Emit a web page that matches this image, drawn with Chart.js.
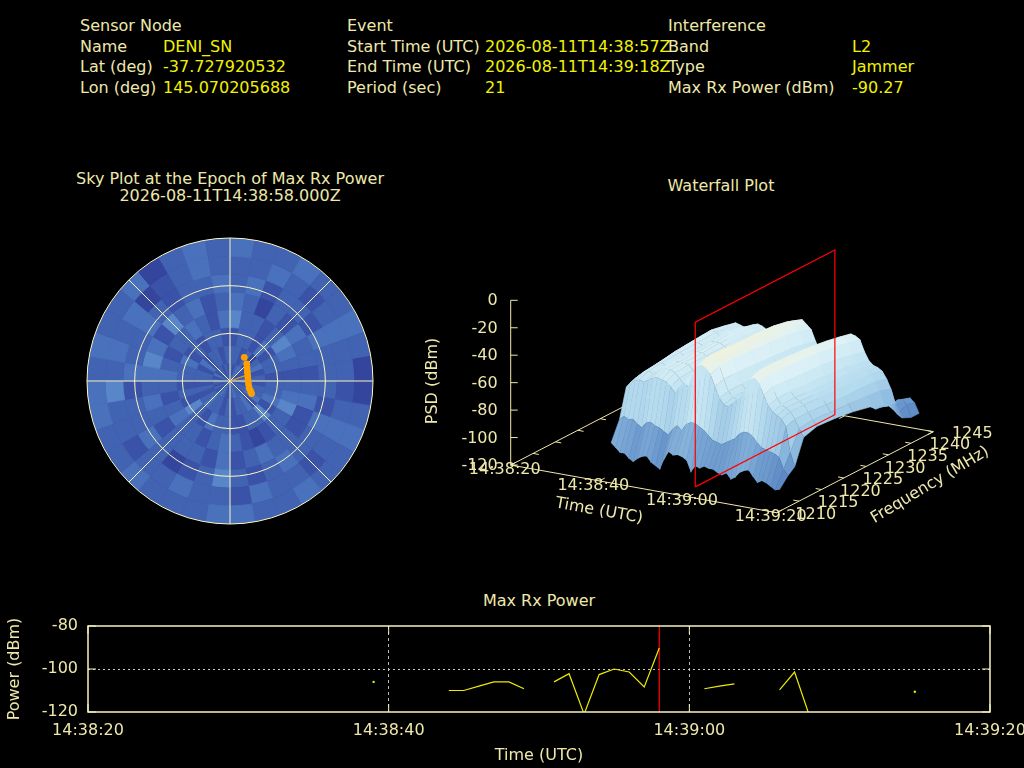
<!DOCTYPE html>
<html>
<head>
<meta charset="utf-8">
<script src="https://cdn.jsdelivr.net/npm/chart.js@4.4.1/dist/chart.umd.min.js"></script>
<style>
body { margin: 0; background: #000; width: 1024px; height: 768px; overflow: hidden; position: relative;
       font-family: 'DejaVu Sans', sans-serif; font-size: 16px; }
.t { position: absolute; white-space: nowrap; color: #eee8aa; line-height: 20px; }
.v { color: #f2f200; }
.c { transform: translateX(-50%); text-align: center; }
canvas { position: absolute; }
</style>
</head>
<body>

<!-- header table -->
<div class="t" style="left:80px;top:16px">Sensor Node</div>
<div class="t" style="left:80px;top:37px">Name</div>
<div class="t" style="left:80px;top:57px">Lat (deg)</div>
<div class="t" style="left:80px;top:78px">Lon (deg)</div>
<div class="t v" style="left:163px;top:37px">DENI_SN</div>
<div class="t v" style="left:163px;top:57px">-37.727920532</div>
<div class="t v" style="left:163px;top:78px">145.070205688</div>

<div class="t" style="left:347px;top:16px">Event</div>
<div class="t" style="left:347px;top:37px">Start Time (UTC)</div>
<div class="t" style="left:347px;top:57px">End Time (UTC)</div>
<div class="t" style="left:347px;top:78px">Period (sec)</div>
<div class="t v" style="left:485px;top:37px">2026-08-11T14:38:57Z</div>
<div class="t v" style="left:485px;top:57px">2026-08-11T14:39:18Z</div>
<div class="t v" style="left:485px;top:78px">21</div>

<div class="t" style="left:668px;top:16px">Interference</div>
<div class="t" style="left:668px;top:37px">Band</div>
<div class="t" style="left:668px;top:57px">Type</div>
<div class="t" style="left:668px;top:78px">Max Rx Power (dBm)</div>
<div class="t v" style="left:852px;top:37px">L2</div>
<div class="t v" style="left:852px;top:57px">Jammer</div>
<div class="t v" style="left:852px;top:78px">-90.27</div>

<div class="t c" style="left:230px;top:170px;line-height:17px">Sky Plot at the Epoch of Max Rx Power<br>2026-08-11T14:38:58.000Z</div>
<div class="t c" style="left:721px;top:176px">Waterfall Plot</div>
<div class="t c" style="left:539px;top:591px">Max Rx Power</div>

<canvas id="skyCells" width="286" height="286" style="left:87px;top:238px;width:286px;height:286px"></canvas>
<canvas id="skyMarks" width="296" height="296" style="left:82px;top:233px;width:296px;height:296px"></canvas>
<canvas id="waterfall" width="600" height="320" style="left:420px;top:230px;width:600px;height:320px"></canvas>
<canvas id="power" width="1024" height="156" style="left:0px;top:612px;width:1024px;height:156px"></canvas>

<script>
// ---- data ----
// time axis in seconds after 14:38:20 UTC
const timeTickSec = [0, 20, 40, 60];
const timeTickLabels = ['14:38:20', '14:38:40', '14:39:00', '14:39:20'];
const maxEpochSec = 38;   // 14:38:58

// max rx power, one sample per second (null = no sample)
const powerSec = [19, 20, 21, 22, 23, 24, 25, 26, 27, 28, 29, 30, 31, 32, 33, 34, 35, 36, 37, 38,
                  39, 40, 41, 42, 43, 44, 45, 46, 47, 48, 49, 50, 51, 52, 53, 54, 55];
const powerDbm = [-106.0, null, null, null, null, -110.0, -110.0, -108.0, -106.0, -106.0, -109.2, null,
                  -106.0, -102.2, -121.0, -102.6, -100.0, -101.4, -108.3, -90.27,
                  null, null, -109.2, -108.0, -106.9, null, null, -109.7, -101.4, -122.0,
                  null, null, null, null, null, null, -110.6];
const powerTicks = [-120, -100, -80];

// sky plot: shade level per cell, 36 azimuth sectors of 10 deg, rings from zenith outwards
const skySectorDeg = 10;
const skyRings = [
  '212321122312212232112321212213122121',
  '221202312122313221212232121221312212',
  '122131221223142211223124121223121221',
  '422124321234221012321223212321223213',
  '320213221231122321312221232343142312',
  '231221322213223212421023221322321223',
  '223212322123212231223221224232301232',
  '322322320023223223322232233232230232'
];
// interference direction track (azimuth, elevation in deg)
const trackAz = [31.1, 44.5, 52.6, 62.5, 74.2, 86.8, 99.2, 110.0, 116.0, 120.2];
const trackEl = [72.6, 75.0, 76.5, 77.7, 78.4, 78.7, 78.2, 77.2, 75.6, 74.3];
const epochAz = 70.2, epochEl = 78.8;

// waterfall: PSD (dBm) per second (rows) and frequency (columns)
const wfTimes = [19, 20, 21, 22, 23, 24, 25, 26, 27, 28, 29, 30, 31, 32, 33, 34, 35, 36, 37, 38,
                 39, 40, 41, 42, 43, 44, 45, 46, 47, 48, 49, 50, 51, 52, 53, 54, 55, 56, 57];
const wfFreqs = [1213.6, 1215.5, 1217, 1219, 1222, 1226, 1230, 1234, 1237, 1239.5, 1241, 1243, 1244.8];
const wfPsd = [
  [-99, -85, -64, -61, -60, -58, -56, -55, -56, -58, -98, -102, -104],
  [-102, -82, -60, -58, -57, -55, -54, -53, -54, -56, -100, -104, -103],
  [-105, -84, -58, -55, -54, -52, -51, -50, -52, -54, -101, -103, -105],
  [-105, -83, -57, -54, -53, -52, -52, -51, -53, -55, -99, -104, -106],
  [-108, -86, -58, -55, -55, -54, -53, -53, -54, -56, -102, -105, -104],
  [-110, -88, -56, -53, -52, -52, -51, -51, -52, -55, -103, -106, -107],
  [-107, -84, -54, -51, -50, -50, -49, -49, -51, -53, -100, -103, -105],
  [-105, -83, -53, -50, -50, -49, -49, -48, -50, -52, -101, -104, -106],
  [-104, -85, -54, -50, -50, -50, -49, -49, -50, -53, -99, -102, -104],
  [-108, -86, -55, -52, -51, -51, -51, -50, -52, -55, -102, -105, -106],
  [-110, -88, -58, -55, -54, -54, -53, -53, -55, -57, -104, -106, -105],
  [-112, -90, -62, -60, -59, -59, -58, -58, -60, -62, -103, -105, -107],
  [-104, -85, -57, -55, -54, -54, -53, -53, -55, -57, -101, -104, -105],
  [-98, -82, -53, -50, -49, -49, -48, -48, -50, -53, -100, -103, -104],
  [-100, -85, -56, -54, -53, -53, -52, -52, -54, -56, -102, -104, -106],
  [-99, -80, -47, -44, -43, -44, -44, -44, -45, -48, -99, -102, -104],
  [-100, -78, -40, -37, -37, -38, -38, -39, -41, -44, -98, -101, -103],
  [-102, -78, -38, -35, -35, -36, -37, -38, -40, -43, -99, -102, -104],
  [-110, -80, -40, -37, -38, -39, -40, -41, -43, -46, -100, -103, -105],
  [-105, -82, -44, -41, -41, -42, -43, -44, -46, -49, -101, -104, -106],
  [-106, -85, -52, -50, -50, -51, -52, -53, -55, -57, -102, -105, -106],
  [-104, -88, -60, -58, -58, -59, -60, -61, -62, -64, -103, -105, -104],
  [-105, -89, -64, -62, -62, -63, -64, -64, -65, -67, -102, -104, -106],
  [-105, -90, -65, -63, -63, -64, -65, -65, -66, -68, -103, -105, -107],
  [-107, -88, -62, -60, -60, -61, -62, -63, -64, -66, -101, -104, -105],
  [-108, -86, -59, -57, -57, -58, -59, -60, -61, -63, -102, -103, -105],
  [-106, -84, -55, -53, -52, -53, -54, -55, -56, -58, -100, -104, -104],
  [-110, -80, -48, -45, -45, -46, -47, -48, -50, -52, -99, -102, -104],
  [-108, -78, -42, -39, -39, -40, -41, -43, -45, -47, -98, -101, -103],
  [-104, -78, -41, -38, -38, -39, -41, -43, -45, -48, -99, -102, -104],
  [-102, -80, -44, -41, -42, -43, -44, -46, -48, -50, -100, -103, -105],
  [-101, -84, -52, -49, -50, -51, -52, -54, -56, -58, -101, -104, -106],
  [-105, -87, -59, -57, -57, -58, -59, -60, -62, -64, -102, -103, -104],
  [-109, -88, -63, -61, -61, -62, -63, -64, -65, -67, -100, -102, -103],
  [-107, -89, -65, -63, -63, -64, -65, -65, -66, -68, -99, -100, -102],
  [-108, -90, -67, -65, -65, -66, -67, -67, -68, -70, -98, -97, -100],
  [-110, -92, -72, -70, -70, -71, -72, -72, -73, -75, -100, -96, -98],
  [-112, -100, -90, -76, -75, -76, -77, -78, -79, -82, -103, -99, -101],
  [-111, -104, -100, -82, -79, -80, -82, -85, -88, -92, -105, -108, -108]
];
const wfFreqTicks = [1210, 1215, 1220, 1225, 1230, 1235, 1240, 1245];
const wfPsdTicks = [0, -20, -40, -60, -80, -100, -120];

// ---- styling ----
const PALE = '#eee8aa';
Chart.defaults.font.family = 'DejaVu Sans';
Chart.defaults.font.size = 16;
Chart.defaults.color = PALE;

// ---- bottom: max rx power ----
const powerFrame = {
  id: 'powerFrame',
  afterDatasetsDraw(chart) {
    const { ctx, chartArea: a, scales } = chart;
    ctx.save();
    ctx.strokeStyle = '#f8f4c0';
    ctx.lineWidth = 1.5;
    ctx.strokeRect(a.left, a.top, a.width, a.height);
    ctx.lineWidth = 1;
    const line = (x1, y1, x2, y2) => { ctx.beginPath(); ctx.moveTo(x1, y1); ctx.lineTo(x2, y2); ctx.stroke(); };
    timeTickSec.forEach(v => {
      const x = scales.x.getPixelForValue(v);
      line(x, a.bottom, x, a.bottom - 8);
      line(x, a.top, x, a.top + 8);
    });
    powerTicks.forEach(v => {
      const y = scales.y.getPixelForValue(v);
      line(a.left, y, a.left + 8, y);
      line(a.right, y, a.right - 8, y);
    });
    ctx.restore();
  }
};

new Chart(document.getElementById('power'), {
  type: 'line',
  data: {
    datasets: [
      {
        data: powerSec.map((s, i) => ({ x: s, y: powerDbm[i] })),
        borderColor: '#ecec00',
        borderWidth: 1.2,
        spanGaps: false,
        tension: 0,
        pointRadius: c => {
          const i = c.dataIndex;
          return powerDbm[i] != null && powerDbm[i - 1] == null && powerDbm[i + 1] == null ? 1.2 : 0;
        },
        pointBackgroundColor: '#ecec00',
        pointBorderWidth: 0
      },
      {
        data: [{ x: maxEpochSec, y: -120 }, { x: maxEpochSec, y: -80 }],
        borderColor: '#ff0000',
        borderWidth: 1.2,
        pointRadius: 0
      }
    ]
  },
  options: {
    responsive: false,
    animation: false,
    events: [],
    layout: { autoPadding: false, padding: { top: 14, right: 34, left: 0, bottom: 0 } },
    plugins: { legend: { display: false }, tooltip: { enabled: false } },
    scales: {
      x: {
        type: 'linear', min: 0, max: 60,
        afterBuildTicks: s => { s.ticks = timeTickSec.map(v => ({ value: v })); },
        afterFit: s => { s.height = 56; s.paddingLeft = 0; s.paddingRight = 0; },
        ticks: { callback: (v, i) => timeTickLabels[i], maxRotation: 0, padding: 9, color: PALE },
        grid: {
          drawTicks: false,
          color: c => (c.tick && c.tick.value > 0 && c.tick.value < 60) ? '#b8b8b8' : 'rgba(0,0,0,0)'
        },
        border: { display: false, dash: [3, 3] },
        title: { display: true, text: 'Time (UTC)', color: PALE, padding: { top: 0, bottom: 2.5 } }
      },
      y: {
        min: -120, max: -80,
        afterBuildTicks: s => { s.ticks = powerTicks.map(v => ({ value: v })); },
        afterFit: s => { s.width = 88; s.paddingTop = 0; s.paddingBottom = 0; },
        ticks: { padding: 10, color: PALE },
        grid: {
          drawTicks: false,
          color: c => (c.tick && c.tick.value === -100) ? '#c8c8c8' : 'rgba(0,0,0,0)'
        },
        border: { display: false, dash: [2, 3] },
        title: { display: true, text: 'Power (dBm)', color: PALE, padding: { top: 5.5, bottom: 4 } }
      }
    }
  },
  plugins: [powerFrame]
});

// ---- sky plot ----
const skyShades = ['#34459d', '#3a52a8', '#4262b2', '#4a72bc', '#5886c8'];
const sectorCount = 360 / skySectorDeg;
new Chart(document.getElementById('skyCells'), {
  type: 'doughnut',
  data: {
    labels: Array.from({ length: sectorCount }, (_, k) => k * skySectorDeg + '°'),
    datasets: skyRings.slice().reverse().map(ring => {
      const cols = [...ring].map(d => skyShades[+d]);
      return { data: Array(sectorCount).fill(skySectorDeg), backgroundColor: cols, borderColor: cols, borderWidth: 0.8 };
    })
  },
  options: {
    responsive: false, animation: false, events: [], cutout: 0,
    layout: { autoPadding: false },
    plugins: { legend: { display: false }, tooltip: { enabled: false } }
  }
});

const skyHalf = 90 * 148 / 143;
const skyGrid = {
  id: 'skyGrid',
  beforeDatasetsDraw(chart) {
    const { ctx, scales: { x, y } } = chart;
    const cx = x.getPixelForValue(0), cy = y.getPixelForValue(0);
    const pr = r => x.getPixelForValue(r) - cx;
    ctx.save();
    ctx.strokeStyle = '#fdf8c0';
    ctx.lineWidth = 1;
    [30, 60, 90].forEach(r => { ctx.beginPath(); ctx.arc(cx, cy, pr(r), 0, Math.PI * 2); ctx.stroke(); });
    [0, 45, 90, 135].forEach(a => {
      const rad = a * Math.PI / 180, R = pr(90);
      ctx.beginPath();
      ctx.moveTo(cx + R * Math.sin(rad), cy - R * Math.cos(rad));
      ctx.lineTo(cx - R * Math.sin(rad), cy + R * Math.cos(rad));
      ctx.stroke();
    });
    ctx.restore();
  }
};
const polarXY = (az, el) => ({ x: (90 - el) * Math.sin(az * Math.PI / 180), y: (90 - el) * Math.cos(az * Math.PI / 180) });
new Chart(document.getElementById('skyMarks'), {
  type: 'scatter',
  data: {
    datasets: [
      { data: trackAz.map((a, i) => polarXY(a, trackEl[i])), pointRadius: 3.4, pointBackgroundColor: '#ffa000', pointBorderWidth: 0 },
      { data: [{ x: 0, y: 0 }, polarXY(epochAz, epochEl)], showLine: true, borderColor: '#ffa000', borderWidth: 1, pointRadius: 0 }
    ]
  },
  options: {
    responsive: false, animation: false, events: [],
    layout: { autoPadding: false },
    plugins: { legend: { display: false }, tooltip: { enabled: false } },
    scales: {
      x: { min: -skyHalf, max: skyHalf, display: false },
      y: { min: -skyHalf, max: skyHalf, display: false }
    }
  },
  plugins: [skyGrid]
});

// ---- waterfall (orthographic 3D view, page coordinates) ----
const wfBox = { t: [0, 60], f: [1210, 1245], z: [-120, 0] };
const wfOrigin = [510.7, 465];
const wfTimeVec = [266, 47.7], wfFreqVec = [156.6, -81], wfZVec = [0, -164.7];
function proj(t, f, z) {
  const a = (t - wfBox.t[0]) / (wfBox.t[1] - wfBox.t[0]);
  const b = (f - wfBox.f[0]) / (wfBox.f[1] - wfBox.f[0]);
  const c = (z - wfBox.z[0]) / (wfBox.z[1] - wfBox.z[0]);
  return { x: wfOrigin[0] + a * wfTimeVec[0] + b * wfFreqVec[0] + c * wfZVec[0],
           y: wfOrigin[1] + a * wfTimeVec[1] + b * wfFreqVec[1] + c * wfZVec[1] };
}
const wfStops = [[-120, [74, 112, 184]], [-100, [104, 150, 204]], [-85, [146, 190, 224]], [-70, [180, 218, 238]],
                 [-55, [204, 233, 244]], [-45, [222, 242, 247]], [-35, [242, 242, 218]]];
function wfColor(z) {
  if (z <= wfStops[0][0]) return `rgb(${wfStops[0][1]})`;
  for (let k = 1; k < wfStops.length; k++) {
    if (z <= wfStops[k][0]) {
      const [z0, c0] = wfStops[k - 1], [z1, c1] = wfStops[k];
      const u = (z - z0) / (z1 - z0);
      return `rgb(${c0.map((v, n) => Math.round(v + u * (c1[n] - v))).join(',')})`;
    }
  }
  return `rgb(${wfStops[wfStops.length - 1][1]})`;
}

// quads ordered far -> near, then reversed because Chart.js paints dataset 0 last
const wfQuads = [];
for (let i = 0; i < wfTimes.length - 1; i++) {
  for (let j = wfFreqs.length - 2; j >= 0; j--) {
    const corners = [[i, j], [i, j + 1], [i + 1, j + 1], [i + 1, j]];
    const pts = corners.map(([a, b]) => proj(wfTimes[a], wfFreqs[b], wfPsd[a][b]));
    const zAvg = corners.reduce((s, [a, b]) => s + wfPsd[a][b], 0) / 4;
    const col = wfColor(zAvg);
    wfQuads.push({ data: pts, fill: 'shape', backgroundColor: col, borderColor: col, borderWidth: 0.6, pointRadius: 0, tension: 0 });
  }
}
const fLo = wfFreqs[0], fHi = wfFreqs[wfFreqs.length - 1];
const redPlane = {
  data: [proj(maxEpochSec, fLo, -120), proj(maxEpochSec, fLo, 0), proj(maxEpochSec, fHi, 0),
         proj(maxEpochSec, fHi, -120), proj(maxEpochSec, fLo, -120)],
  borderColor: '#ff0000', borderWidth: 1.2, pointRadius: 0, fill: false, tension: 0
};

const wfAxes = {
  id: 'wfAxes',
  beforeDatasetsDraw(chart) {
    const { ctx, scales: { x: sx, y: sy } } = chart;
    const P = (t, f, z) => { const p = proj(t, f, z); return [sx.getPixelForValue(p.x), sy.getPixelForValue(p.y)]; };
    const seg = (a, b) => { ctx.beginPath(); ctx.moveTo(a[0], a[1]); ctx.lineTo(b[0], b[1]); ctx.stroke(); };
    const [t0, t1] = wfBox.t, [f0, f1] = wfBox.f, [z0, z1] = wfBox.z;
    ctx.save();
    ctx.strokeStyle = PALE;
    ctx.lineWidth = 1;
    seg(P(t0, f0, z0), P(t1, f0, z0));
    seg(P(t1, f0, z0), P(t1, f1, z0));
    seg(P(t0, f0, z0), P(t0, f1, z0));
    seg(P(t0, f1, z0), P(t1, f1, z0));
    seg(P(t0, f0, z0), P(t0, f0, z1));
    ctx.fillStyle = PALE;
    ctx.font = '16px "DejaVu Sans"';
    ctx.textBaseline = 'middle';
    // z ticks
    ctx.textAlign = 'right';
    wfPsdTicks.forEach(z => {
      const a = P(t0, f0, z);
      seg(a, [a[0] + 7, a[1]]);
      ctx.fillText(String(z), a[0] - 13, a[1] + 1);
    });
    // time ticks
    ctx.textAlign = 'center';
    timeTickSec.forEach((t, i) => {
      seg(P(t, f0, z0), P(t, f0 + 1.2, z0));
      seg(P(t, f1, z0), P(t, f1 - 1.2, z0));
      const a = P(t, f0, z0);
      ctx.fillText(timeTickLabels[i], a[0] - 6, a[1] + 4.5);
    });
    // frequency ticks
    wfFreqTicks.forEach(f => {
      seg(P(t1, f, z0), P(t1 - 1.3, f, z0));
      seg(P(t0, f, z0), P(t0 + 1.3, f, z0));
      const a = P(t1, f, z0);
      ctx.fillText(String(f), a[0] + 39, a[1] + 2);
    });
    // axis titles
    const label = (txt, px, py, rot) => {
      ctx.save();
      ctx.translate(sx.getPixelForValue(px), sy.getPixelForValue(py));
      ctx.rotate(rot);
      ctx.fillText(txt, 0, 0);
      ctx.restore();
    };
    label('PSD (dBm)', 433, 381, -Math.PI / 2);
    label('Time (UTC)', 599, 511, Math.atan2(wfTimeVec[1], wfTimeVec[0]));
    label('Frequency (MHz)', 930, 485, -0.54);
    ctx.restore();
  }
};

new Chart(document.getElementById('waterfall'), {
  type: 'line',
  data: { datasets: [redPlane, ...wfQuads.reverse()] },
  options: {
    responsive: false, animation: false, events: [],
    layout: { autoPadding: false },
    plugins: { legend: { display: false }, tooltip: { enabled: false } },
    scales: {
      x: { type: 'linear', min: 420, max: 1020, display: false },
      y: { type: 'linear', min: 230, max: 550, reverse: true, display: false }
    }
  },
  plugins: [wfAxes]
});
</script>
</body>
</html>
